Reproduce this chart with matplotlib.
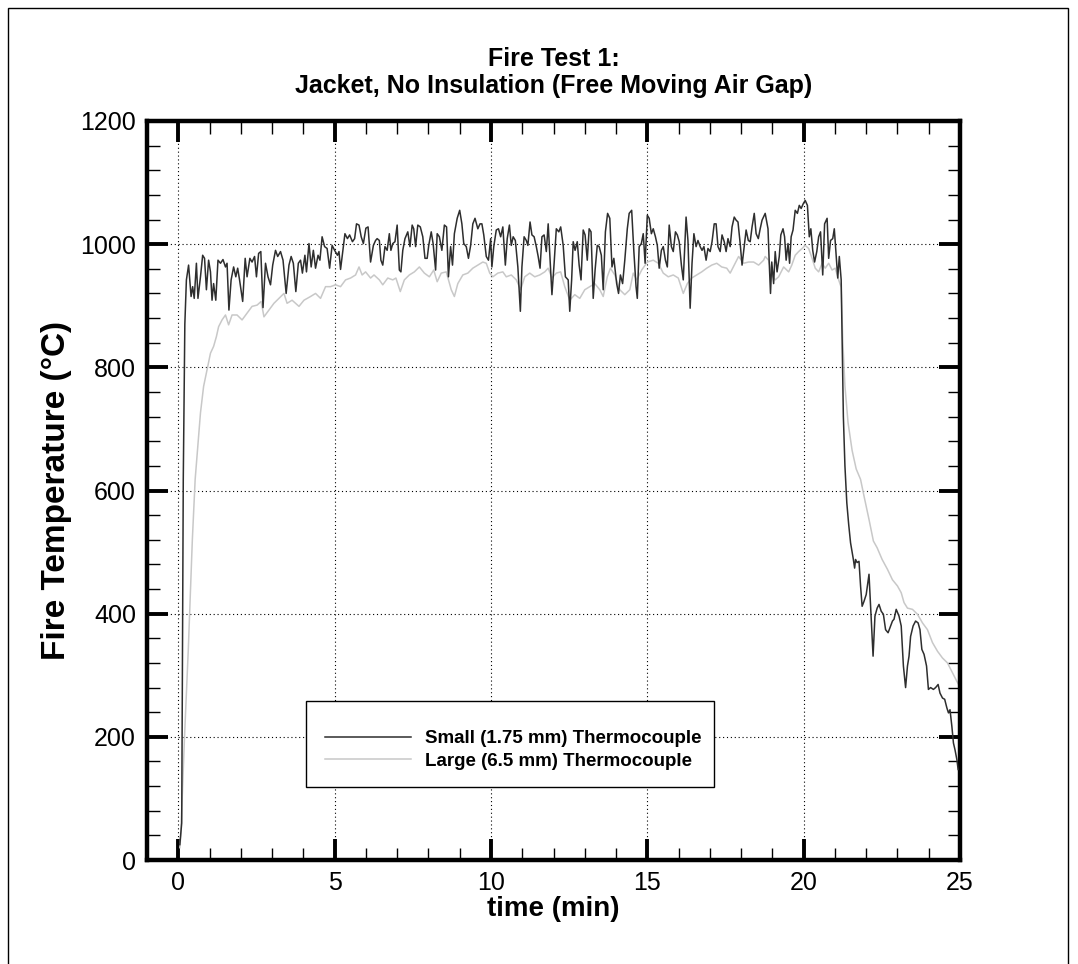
import matplotlib
matplotlib.use("Agg")
import matplotlib.pyplot as plt
from matplotlib.patches import Rectangle
from matplotlib.ticker import MultipleLocator

# small (1.75 mm) thermocouple
small_t = [0.05, 0.11, 0.16, 0.21, 0.26,
           0.33, 0.41, 0.46, 0.51, 0.58, 0.63, 0.71, 0.78, 0.84, 0.90, 0.97, 1.03, 1.08, 1.13, 1.20,
           1.27, 1.35, 1.43, 1.51, 1.56, 1.62, 1.69, 1.77, 1.84, 1.90, 1.96, 2.06, 2.14, 2.20, 2.29,
           2.36, 2.44, 2.50, 2.57, 2.64, 2.71, 2.79, 2.87, 2.95, 3.02, 3.11, 3.18, 3.27, 3.35, 3.45,
           3.54, 3.61, 3.68, 3.76, 3.84, 3.91, 3.97, 4.05, 4.10, 4.18, 4.25, 4.32, 4.39, 4.47, 4.53,
           4.60, 4.68, 4.76, 4.84, 4.92, 5.00, 5.09, 5.14, 5.19, 5.27, 5.33, 5.41, 5.48, 5.57, 5.64,
           5.70, 5.78, 5.85, 5.92, 6.00, 6.07, 6.15, 6.24, 6.31,
           6.36, 6.43, 6.48, 6.54, 6.61, 6.68, 6.75, 6.80, 6.86, 6.93, 7.00, 7.07, 7.12, 7.18, 7.25,
           7.34, 7.41, 7.48, 7.53, 7.59, 7.66, 7.74, 7.82, 7.89, 7.96, 8.01, 8.09, 8.15, 8.23, 8.28,
           8.35, 8.43, 8.51, 8.58, 8.64, 8.71, 8.77, 8.83, 8.92, 9.00, 9.07, 9.13, 9.21, 9.28, 9.35,
           9.42, 9.49, 9.58, 9.65, 9.71, 9.77, 9.85, 9.92, 9.99, 10.03, 10.09, 10.17, 10.24, 10.31,
           10.38, 10.46, 10.52, 10.59, 10.65, 10.71, 10.78, 10.86, 10.94, 10.99, 11.06, 11.13, 11.18,
           11.25, 11.31, 11.38, 11.45, 11.51, 11.57, 11.63, 11.70, 11.77, 11.83, 11.89, 11.95, 12.02,
           12.09, 12.17, 12.23, 12.31, 12.38, 12.47,
           12.52, 12.58, 12.63, 12.69, 12.76, 12.82, 12.88, 12.95, 13.01, 13.08, 13.14, 13.20, 13.27,
           13.33, 13.40, 13.46, 13.53, 13.59, 13.66, 13.73, 13.80, 13.87, 13.93, 14.02, 14.08, 14.14,
           14.21, 14.28, 14.36, 14.42, 14.50, 14.57, 14.64, 14.68, 14.74, 14.81, 14.87, 14.93, 15.00,
           15.06, 15.13, 15.19, 15.26, 15.32, 15.38, 15.45, 15.51, 15.58, 15.64, 15.70, 15.77, 15.83,
           15.90, 15.96, 16.02, 16.09, 16.15, 16.24, 16.30, 16.37, 16.43, 16.49, 16.56, 16.62, 16.69,
           16.75, 16.81, 16.88, 16.94, 17.01, 17.07, 17.14, 17.20, 17.26, 17.33, 17.39, 17.46, 17.52,
           17.58, 17.65, 17.71, 17.78, 17.84, 17.90, 17.97, 18.03, 18.10, 18.16, 18.23, 18.29, 18.35,
           18.42, 18.48, 18.55, 18.61, 18.67,
           18.77, 18.86, 18.90, 18.94, 18.98, 19.04, 19.09, 19.15, 19.22, 19.27, 19.34, 19.39, 19.44,
           19.50, 19.55, 19.60, 19.66, 19.73, 19.80, 19.86, 19.92, 19.99, 20.05, 20.12, 20.18, 20.23,
           20.29, 20.35, 20.42, 20.48, 20.54, 20.61, 20.67, 20.75, 20.80, 20.86, 20.93, 20.98, 21.03,
           21.09, 21.14, 21.20,
           21.23, 21.27, 21.32, 21.38, 21.44, 21.50, 21.59, 21.63, 21.66, 21.71, 21.77, 21.82, 21.87,
           21.93, 22.00, 22.09, 22.14, 22.22, 22.28, 22.35, 22.41, 22.48, 22.55, 22.62, 22.70, 22.76,
           22.84, 22.89, 22.96, 23.05, 23.12, 23.19, 23.26, 23.32, 23.37, 23.42, 23.50, 23.58, 23.66,
           23.72, 23.78, 23.85, 23.93, 23.99, 24.06, 24.15, 24.22, 24.30, 24.36, 24.44, 24.51, 24.58,
           24.63, 24.68, 24.74, 24.79, 24.84, 24.90, 24.94]
small_T = [25, 60, 618, 870, 942,
           966, 915, 931, 912, 969, 912, 947, 982, 977, 926, 974, 955, 909, 936, 909,
           974, 969, 975, 963, 969, 893, 942, 963, 947, 961, 942, 907, 977, 947, 977,
           971, 980, 947, 985, 988, 897, 969, 947, 934, 966, 990, 980, 988, 974, 920,
           966, 980, 969, 923, 969, 974, 953, 982, 955, 1001, 963, 990, 961, 982, 974,
           1012, 996, 993, 961, 998, 990, 982, 988, 959, 993, 1017, 1009, 1015, 1004, 1009,
           1033, 1031, 1012, 1001, 1026, 1028, 971, 998, 1006,
           1009, 1006, 974, 966, 996, 990, 1017, 990, 1001, 1004, 1031, 958, 955, 990, 1009,
           1020, 996, 1031, 1025, 996, 1031, 1028, 1012, 977, 977, 998, 1020, 1001, 958, 1017,
           1012, 990, 1031, 1028, 947, 996, 966, 1017, 1042, 1055, 1033, 1001, 996, 977, 998,
           1033, 1042, 1025, 1033, 1033, 1015, 980, 974, 1009, 963, 996, 1023, 1025, 1012,
           1028, 966, 1009, 1031, 998, 1012, 1006, 963, 891, 963, 1012, 1006, 998,
           1036, 1015, 1012, 996, 980, 961, 1012, 1015, 988, 1033, 974, 918, 969,
           1025, 1020, 1028, 998, 947, 942,
           891, 942, 1004, 990, 1004, 966, 942, 1023, 1015, 974, 1025, 1020, 912,
           958, 998, 996, 982, 926, 1020, 1050, 1042, 963, 977, 936, 920, 950,
           936, 974, 1025, 1050, 1055, 988, 931, 912, 996, 1001, 1017, 969, 1047,
           1042, 1017, 1025, 1012, 998, 961, 990, 996, 974, 963, 1031, 996, 988,
           1020, 1015, 1004, 966, 942, 1044, 1006, 896, 969, 1017, 996, 1006, 996,
           990, 996, 974, 993, 988, 1004, 1033, 1033, 996, 988, 1015, 1004, 988,
           1009, 996, 1028, 1044, 1039, 1036, 1001, 966, 996, 1023, 1006, 1004, 1028,
           1050, 1017, 1009, 1025, 1039,
           1050, 1025, 969, 920, 971, 936, 988, 955, 980, 1015, 1025, 1012, 974,
           1001, 969, 1012, 1023, 1055, 1050, 1063, 1058, 1066, 1071, 1063, 1012, 1025,
           990, 971, 988, 1012, 1020, 950, 1033, 1042, 977, 1006, 1009, 1025, 988,
           945, 980, 942,
           850, 720, 640, 580, 545, 515, 488, 474, 488, 483, 485, 445, 412,
           420, 431, 464, 412, 331, 396, 409, 415, 404, 399, 374, 369, 377,
           388, 391, 407, 396, 380, 315, 280, 315, 331, 363, 380, 388, 385,
           374, 342, 334, 315, 277, 280, 277, 280, 285, 271, 263, 261, 247,
           239, 244, 217, 190, 179, 163, 147]

# large (6.5 mm) thermocouple
large_t = [0.05, 0.08, 0.20, 0.32, 0.45, 0.54,
           0.60, 0.71, 0.81, 0.92, 1.03, 1.13, 1.22, 1.29, 1.40, 1.51, 1.61, 1.72, 1.88, 2.04,
           2.20, 2.36, 2.52, 2.65, 2.74, 2.90, 3.06, 3.22, 3.38, 3.48, 3.64, 3.86, 4.02, 4.23,
           4.39, 4.55, 4.71, 4.87, 5.03, 5.19, 5.35, 5.51, 5.67, 5.78, 5.88, 5.99, 6.15, 6.26,
           6.43, 6.54, 6.70, 6.86, 6.96, 7.10, 7.23, 7.39, 7.55, 7.71, 7.87, 8.03, 8.17, 8.28,
           8.41, 8.57, 8.73, 8.83, 8.94, 9.10, 9.26, 9.42, 9.58, 9.74, 9.85, 9.96, 10.06, 10.22,
           10.38, 10.49, 10.65, 10.81, 10.95, 11.08, 11.24, 11.40, 11.56, 11.72, 11.83, 11.95,
           12.09, 12.23, 12.36,
           12.52, 12.68, 12.84, 13.00, 13.16, 13.32, 13.48, 13.59, 13.72, 13.82, 13.96, 14.12,
           14.28, 14.44, 14.55, 14.66, 14.82, 15.00, 15.19, 15.35, 15.51, 15.67, 15.83, 15.99,
           16.15, 16.28, 16.42, 16.58, 16.74, 16.90, 17.06, 17.22, 17.38, 17.54, 17.65, 17.81,
           17.92, 18.08, 18.24, 18.40, 18.56, 18.72,
           18.77, 18.88, 18.98, 19.09, 19.20, 19.36, 19.52, 19.62, 19.73, 19.84, 19.95, 20.05,
           20.16, 20.27, 20.37, 20.48, 20.59, 20.69, 20.80, 20.91, 21.01, 21.12,
           21.20, 21.25, 21.32, 21.42, 21.55, 21.68,
           21.82, 21.93, 22.09, 22.23, 22.35, 22.51, 22.68, 22.84, 23.00, 23.12, 23.21, 23.32,
           23.48, 23.64, 23.80, 23.96, 24.12, 24.28, 24.44, 24.60, 24.76, 24.90, 24.99]
large_T = [20, 40, 200, 341, 520, 618,
           656, 726, 769, 796, 823, 834, 850, 866, 877, 885, 869, 885, 885, 877,
           888, 899, 901, 907, 882, 893, 904, 912, 920, 904, 909, 899, 909, 915,
           920, 912, 931, 931, 934, 931, 942, 945, 950, 963, 950, 955, 945, 950,
           942, 934, 945, 942, 945, 923, 942, 950, 955, 963, 953, 947, 958, 939,
           953, 955, 926, 915, 936, 950, 953, 961, 966, 971, 969, 953, 947, 953,
           955, 947, 950, 942, 926, 947, 953, 947, 950, 955, 961, 945,
           953, 955, 931,
           909, 918, 912, 926, 931, 936, 926, 915, 947, 961, 950, 926,
           918, 926, 953, 942, 958, 971, 974, 969, 953, 947, 950, 945,
           920, 936, 945, 950, 955, 961, 966, 969, 963, 961, 953, 969,
           980, 969, 971, 971, 966, 974,
           980, 974, 950, 942, 947, 963, 955, 966, 982, 988, 993, 998,
           993, 977, 961, 955, 969, 961, 969, 958, 961, 942,
           930, 845, 770, 710, 665, 635,
           618, 591, 553, 518, 507, 488, 472, 455, 445, 434, 418, 409,
           407, 399, 385, 374, 353, 339, 328, 320, 304, 290, 282]

labels = ["Small (1.75 mm) Thermocouple", "Large (6.5 mm) Thermocouple"]

plt.rcParams['font.family'] = ['Liberation Sans', 'DejaVu Sans']

fig = plt.figure(figsize=(10.78, 9.64), dpi=100)
ax = fig.add_axes([147/1078, 1 - 860/964, 813/1078, 739/964])

ax.plot(small_t, small_T, color='#2e2e2e', lw=1.1, label=labels[0], zorder=3)
ax.plot(large_t, large_T, color='#c8c8c8', lw=1.1, label=labels[1], zorder=2)

ax.set_xlim(-1, 25)
ax.set_ylim(0, 1200)
ax.xaxis.set_major_locator(MultipleLocator(5))
ax.xaxis.set_minor_locator(MultipleLocator(1))
ax.yaxis.set_major_locator(MultipleLocator(200))
ax.yaxis.set_minor_locator(MultipleLocator(40))
ax.tick_params(which='both', direction='in', top=True, right=True, colors='black')
ax.tick_params(which='major', length=15, width=2.8, labelsize=18, pad=8)
ax.tick_params(which='minor', length=9, width=1.0)
for s in ax.spines.values():
    s.set_linewidth(3.2)

ax.grid(which='major', color='black', linestyle=(0, (1, 2.5)), linewidth=0.8)

ax.set_xlabel("time (min)", fontsize=20, fontweight='bold', labelpad=1)
ax.set_ylabel("Fire Temperature (\u00b0C)", fontsize=24, fontweight='bold', labelpad=6)
ax.set_title("Fire Test 1:\nJacket, No Insulation (Free Moving Air Gap)",
             fontsize=18, fontweight='bold', pad=20, linespacing=1.15)

leg = ax.legend(loc='center left', bbox_to_anchor=((325 - 147) / 813, (860 - 750) / 739),
                frameon=False, borderpad=0, borderaxespad=0, handlelength=4.6,
                handletextpad=0.75, labelspacing=0.3, prop={'weight': 'bold', 'size': 13.5})
ax.add_patch(Rectangle(((306 - 147) / 813, (860 - 787) / 739), 408 / 813, 86 / 739,
                       transform=ax.transAxes, fill=True, facecolor='white',
                       edgecolor='black', lw=1.0, zorder=4))
leg.set_zorder(5)

# outer frame round the whole figure
fig.add_artist(Rectangle((8 / 1078, -0.01), 1060 / 1078, 1 - 8 / 964 + 0.01,
                         transform=fig.transFigure, fill=False, edgecolor='black', lw=1.0))

fig.savefig("out.png", dpi=100)
